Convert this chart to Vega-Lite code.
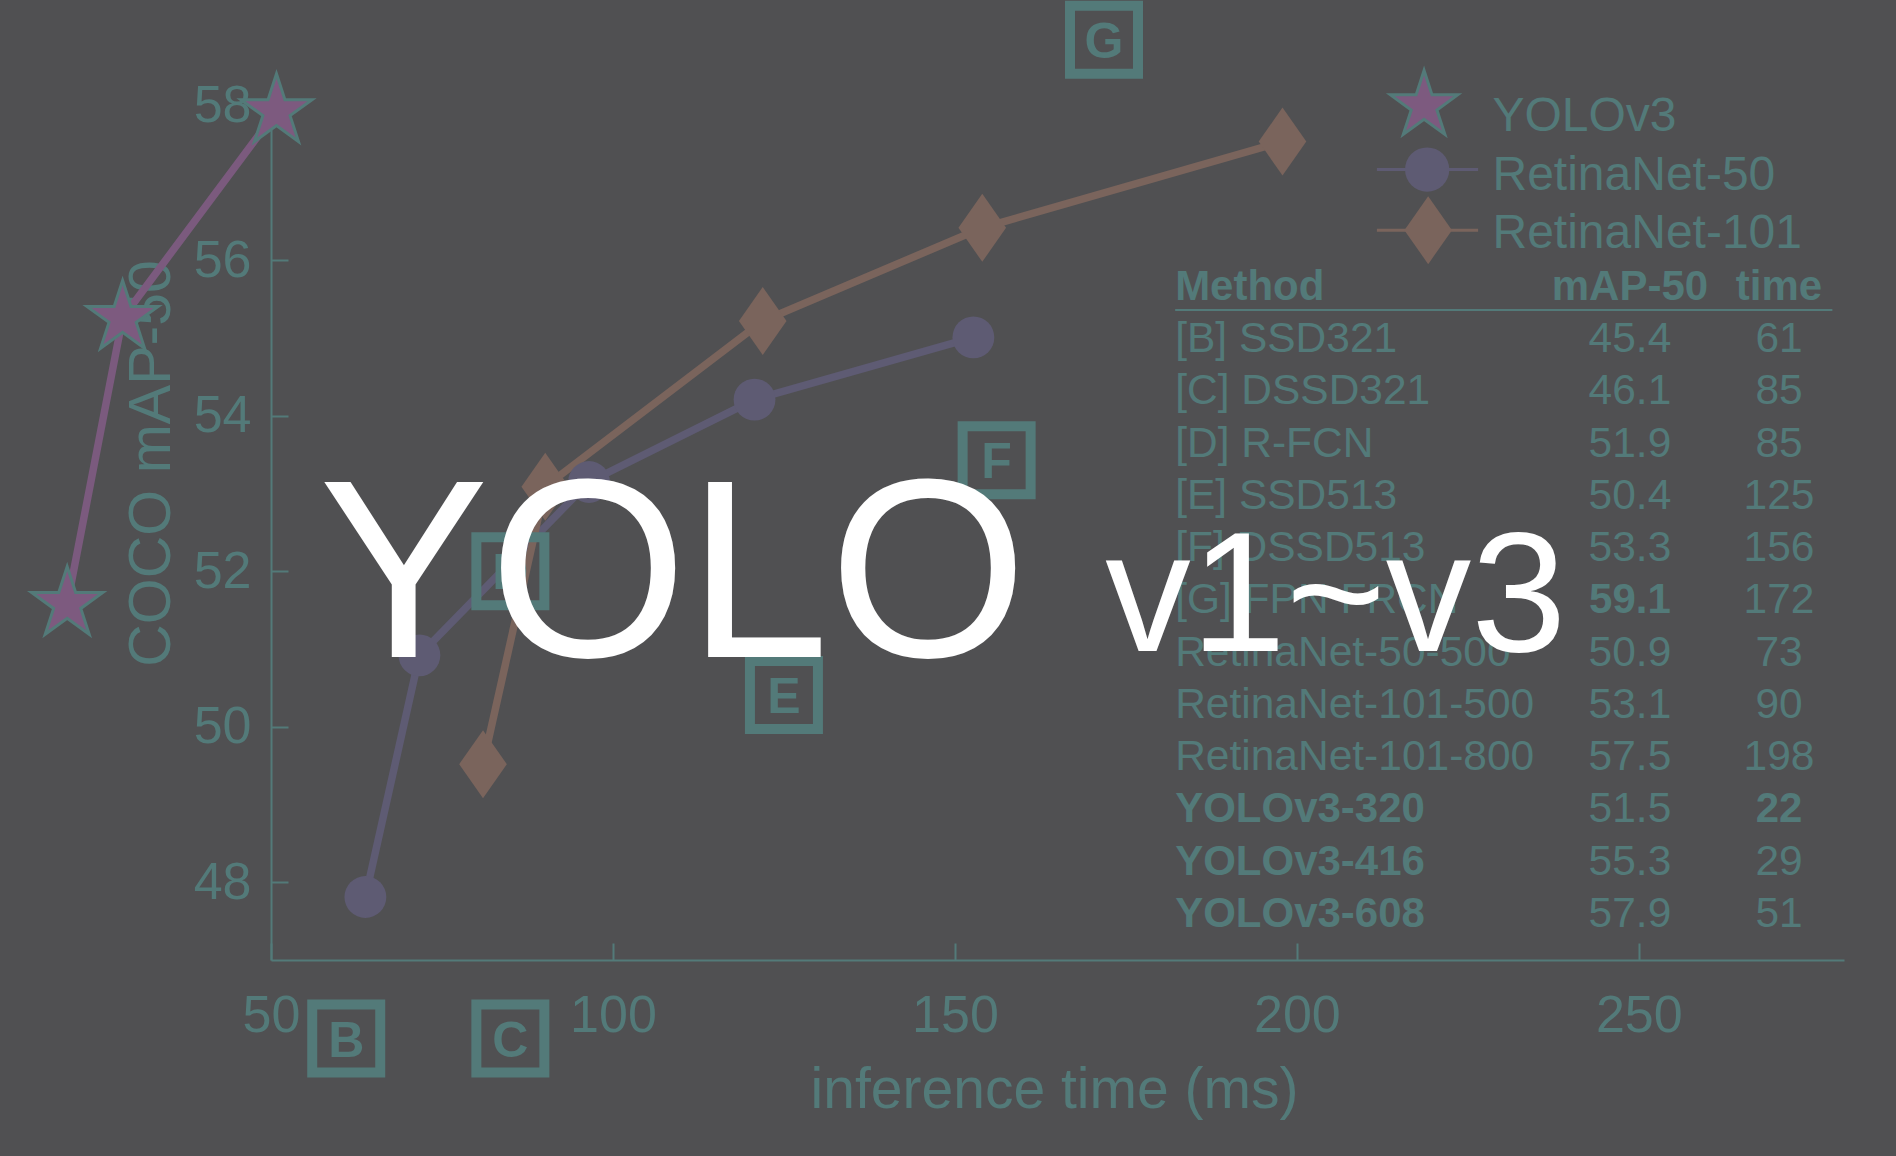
{
  "$schema": "https://vega.github.io/schema/vega-lite/v6.json",
  "width": 1573,
  "height": 855,
  "autosize": {"type": "none"},
  "padding": {"left": 271, "top": 105, "right": 52, "bottom": 196},
  "background": "#505052",
  "config": {"view": {"stroke": null}, "font": "Liberation Sans"},
  "datasets": {
    "curves": [
      {"model": "YOLOv3", "time": 20.2, "map": 51.58},
      {"model": "YOLOv3", "time": 28.3, "map": 55.26},
      {"model": "YOLOv3", "time": 50.8, "map": 57.92},
      {"model": "RetinaNet-50", "time": 63.8, "map": 47.81},
      {"model": "RetinaNet-50", "time": 71.7, "map": 50.92},
      {"model": "RetinaNet-50", "time": 96.5, "map": 53.15},
      {"model": "RetinaNet-50", "time": 120.7, "map": 54.21},
      {"model": "RetinaNet-50", "time": 152.7, "map": 55.01},
      {"model": "RetinaNet-101", "time": 81.0, "map": 49.52},
      {"model": "RetinaNet-101", "time": 90.1, "map": 53.09},
      {"model": "RetinaNet-101", "time": 121.9, "map": 55.22},
      {"model": "RetinaNet-101", "time": 154.0, "map": 56.42},
      {"model": "RetinaNet-101", "time": 197.9, "map": 57.53}
    ],
    "boxes": [
      {"label": "B", "time": 61.0, "map": 45.99},
      {"label": "C", "time": 85.0, "map": 45.99},
      {"label": "D", "time": 85.0, "map": 52.0},
      {"label": "E", "time": 125.0, "map": 50.41},
      {"label": "F", "time": 156.1, "map": 53.43},
      {"label": "G", "time": 171.8, "map": 58.84}
    ],
    "table": [
      {"row": 1, "method": "[B] SSD321", "map": 45.4, "time": 61},
      {"row": 2, "method": "[C] DSSD321", "map": 46.1, "time": 85},
      {"row": 3, "method": "[D] R-FCN", "map": 51.9, "time": 85},
      {"row": 4, "method": "[E] SSD513", "map": 50.4, "time": 125},
      {"row": 5, "method": "[F] DSSD513", "map": 53.3, "time": 156},
      {"row": 6, "method": "[G] FPN FRCN", "map": 59.1, "time": 172},
      {"row": 7, "method": "RetinaNet-50-500", "map": 50.9, "time": 73},
      {"row": 8, "method": "RetinaNet-101-500", "map": 53.1, "time": 90},
      {"row": 9, "method": "RetinaNet-101-800", "map": 57.5, "time": 198},
      {"row": 10, "method": "YOLOv3-320", "map": 51.5, "time": 22},
      {"row": 11, "method": "YOLOv3-416", "map": 55.3, "time": 29},
      {"row": 12, "method": "YOLOv3-608", "map": 57.9, "time": 51}
    ]
  },
  "resolve": {"scale": {"y": "independent"}},
  "layer": [
    {
      "layer": [
        {
          "data": {"name": "curves"},
          "mark": {"type": "line", "strokeWidth": 7.5},
          "encoding": {
            "x": {
              "field": "time", "type": "quantitative",
              "scale": {"domain": [50, 280], "nice": false, "zero": false},
              "axis": {
                "values": [50, 100, 150, 200, 250], "grid": false, "format": "d",
                "title": "inference time (ms)",
                "domainColor": "#537a79", "domainWidth": 2,
                "tickColor": "#537a79", "tickWidth": 2, "tickSize": -17,
                "labelFontSize": 52, "labelColor": "#537a79", "labelFlush": false,
                "labelBaseline": "alphabetic", "labelPadding": 88,
                "titleFontSize": 57, "titleFontWeight": "normal", "titleColor": "#537a79",
                "titleX": 783, "titleY": 147, "titleBaseline": "alphabetic", "titleAlign": "center"
              }
            },
            "y": {
              "field": "map", "type": "quantitative",
              "scale": {"domain": [47, 58], "nice": false, "zero": false},
              "axis": {
                "values": [48, 50, 52, 54, 56, 58], "grid": false, "format": "d",
                "title": "COCO mAP-50",
                "domainColor": "#537a79", "domainWidth": 2,
                "tickColor": "#537a79", "tickWidth": 2, "tickSize": -17,
                "labelFontSize": 52, "labelColor": "#537a79", "labelPadding": 37,
                "titleFontSize": 59, "titleFontWeight": "normal", "titleColor": "#537a79",
                "titleAngle": -90, "titleX": -102, "titleY": 358,
                "titleBaseline": "alphabetic", "titleAlign": "center"
              }
            },
            "color": {
              "field": "model", "type": "nominal",
              "scale": {"domain": ["YOLOv3", "RetinaNet-50", "RetinaNet-101"], "range": ["#7b5a7e", "#5e5b73", "#7a645c"]},
              "legend": null
            }
          }
        },
        {
          "data": {"name": "curves"},
          "transform": [{"filter": "datum.model === 'YOLOv3'"}],
          "mark": {"type": "point", "shape": "M0,-1L0.225,-0.309L0.951,-0.309L0.363,0.118L0.588,0.809L0,0.382L-0.588,0.809L-0.363,0.118L-0.951,-0.309L-0.225,-0.309Z", "filled": true, "fill": "#7d5a7f", "stroke": "#537a79", "strokeWidth": 3, "size": 5600, "opacity": 1},
          "encoding": {"x": {"field": "time", "type": "quantitative"}, "y": {"field": "map", "type": "quantitative"}}
        },
        {
          "data": {"name": "curves"},
          "transform": [{"filter": "datum.model === 'RetinaNet-50'"}],
          "mark": {"type": "point", "shape": "circle", "filled": true, "fill": "#5e5b73", "strokeWidth": 0, "size": 1750, "opacity": 1},
          "encoding": {"x": {"field": "time", "type": "quantitative"}, "y": {"field": "map", "type": "quantitative"}}
        },
        {
          "data": {"name": "curves"},
          "transform": [{"filter": "datum.model === 'RetinaNet-101'"}],
          "mark": {"type": "point", "shape": "M0,-1L0.7,0L0,1L-0.7,0Z", "filled": true, "fill": "#7a645c", "strokeWidth": 0, "size": 4624, "opacity": 1},
          "encoding": {"x": {"field": "time", "type": "quantitative"}, "y": {"field": "map", "type": "quantitative"}}
        },
        {
          "data": {"name": "boxes"},
          "mark": {"type": "point", "shape": "square", "filled": false, "stroke": "#537a79", "strokeWidth": 10, "size": 4624, "opacity": 1},
          "encoding": {"x": {"field": "time", "type": "quantitative"}, "y": {"field": "map", "type": "quantitative"}}
        },
        {
          "data": {"name": "boxes"},
          "mark": {"type": "text", "fontSize": 50, "fontWeight": "bold", "color": "#537a79", "align": "center", "baseline": "alphabetic", "dy": 18},
          "encoding": {"x": {"field": "time", "type": "quantitative"}, "y": {"field": "map", "type": "quantitative"}, "text": {"field": "label"}}
        },
        {
          "data": {"values": [{}]},
          "mark": {"type": "rule", "color": "#5e5b73", "strokeWidth": 3},
          "encoding": {"x": {"datum": 211.7, "type": "quantitative"}, "x2": {"datum": 226.5}, "y": {"datum": 57.17, "type": "quantitative"}}
        },
        {
          "data": {"values": [{}]},
          "mark": {"type": "rule", "color": "#7a645c", "strokeWidth": 3},
          "encoding": {"x": {"datum": 211.7, "type": "quantitative"}, "x2": {"datum": 226.5}, "y": {"datum": 56.39, "type": "quantitative"}}
        },
        {
          "data": {"values": [{}]},
          "mark": {"type": "point", "shape": "M0,-1L0.225,-0.309L0.951,-0.309L0.363,0.118L0.588,0.809L0,0.382L-0.588,0.809L-0.363,0.118L-0.951,-0.309L-0.225,-0.309Z", "filled": true, "fill": "#7d5a7f", "stroke": "#537a79", "strokeWidth": 3, "size": 5000, "opacity": 1},
          "encoding": {"x": {"datum": 218.6, "type": "quantitative"}, "y": {"datum": 57.99, "type": "quantitative"}}
        },
        {
          "data": {"values": [{}]},
          "mark": {"type": "point", "shape": "circle", "filled": true, "fill": "#5e5b73", "strokeWidth": 0, "size": 1960, "opacity": 1},
          "encoding": {"x": {"datum": 219.05, "type": "quantitative"}, "y": {"datum": 57.17, "type": "quantitative"}}
        },
        {
          "data": {"values": [{}]},
          "mark": {"type": "point", "shape": "M0,-1L0.7,0L0,1L-0.7,0Z", "filled": true, "fill": "#7a645c", "strokeWidth": 0, "size": 4624, "opacity": 1},
          "encoding": {"x": {"datum": 219.2, "type": "quantitative"}, "y": {"datum": 56.39, "type": "quantitative"}}
        },
        {
          "data": {"values": [{}]},
          "mark": {"type": "text", "text": "YOLOv3", "fontSize": 48, "color": "#537a79", "align": "left", "baseline": "alphabetic"},
          "encoding": {"x": {"datum": 228.6, "type": "quantitative"}, "y": {"datum": 57.66, "type": "quantitative"}}
        },
        {
          "data": {"values": [{}]},
          "mark": {"type": "text", "text": "RetinaNet-50", "fontSize": 48, "color": "#537a79", "align": "left", "baseline": "alphabetic"},
          "encoding": {"x": {"datum": 228.6, "type": "quantitative"}, "y": {"datum": 56.91, "type": "quantitative"}}
        },
        {
          "data": {"values": [{}]},
          "mark": {"type": "text", "text": "RetinaNet-101", "fontSize": 48, "color": "#537a79", "align": "left", "baseline": "alphabetic"},
          "encoding": {"x": {"datum": 228.6, "type": "quantitative"}, "y": {"datum": 56.16, "type": "quantitative"}}
        }
      ]
    },
    {
      "layer": [
        {
          "data": {"values": [{}]},
          "mark": {"type": "text", "text": "Method", "fontSize": 42, "fontWeight": "bold", "color": "#537a79", "align": "left", "baseline": "alphabetic"},
          "encoding": {
            "x": {"datum": 182.2, "type": "quantitative"},
            "y": {"datum": 0, "type": "quantitative", "scale": {"domain": [-3.732, 12.632], "reverse": true, "nice": false, "zero": false}, "axis": null}
          }
        },
        {
          "data": {"values": [{}]},
          "mark": {"type": "text", "text": "mAP-50", "fontSize": 42, "fontWeight": "bold", "color": "#537a79", "align": "center", "baseline": "alphabetic"},
          "encoding": {"x": {"datum": 248.7, "type": "quantitative"}, "y": {"datum": 0, "type": "quantitative"}}
        },
        {
          "data": {"values": [{}]},
          "mark": {"type": "text", "text": "time", "fontSize": 42, "fontWeight": "bold", "color": "#537a79", "align": "center", "baseline": "alphabetic"},
          "encoding": {"x": {"datum": 270.5, "type": "quantitative"}, "y": {"datum": 0, "type": "quantitative"}}
        },
        {
          "data": {"values": [{}]},
          "mark": {"type": "rule", "color": "#537a79", "strokeWidth": 2},
          "encoding": {"x": {"datum": 182.2, "type": "quantitative"}, "x2": {"datum": 278.3}, "y": {"datum": 0.19, "type": "quantitative"}}
        },
        {
          "data": {"name": "table"},
          "transform": [{"filter": "indexof(datum.method, 'YOLO') !== 0"}],
          "mark": {"type": "text", "fontSize": 42.5, "color": "#537a79", "align": "left", "baseline": "alphabetic"},
          "encoding": {"x": {"datum": 182.2, "type": "quantitative"}, "y": {"field": "row", "type": "quantitative"}, "text": {"field": "method"}}
        },
        {
          "data": {"name": "table"},
          "transform": [{"filter": "indexof(datum.method, 'YOLO') === 0"}],
          "mark": {"type": "text", "fontSize": 42, "fontWeight": "bold", "color": "#537a79", "align": "left", "baseline": "alphabetic"},
          "encoding": {"x": {"datum": 182.2, "type": "quantitative"}, "y": {"field": "row", "type": "quantitative"}, "text": {"field": "method"}}
        },
        {
          "data": {"name": "table"},
          "transform": [{"filter": "datum.map !== 59.1"}],
          "mark": {"type": "text", "fontSize": 42.5, "color": "#537a79", "align": "center", "baseline": "alphabetic"},
          "encoding": {"x": {"datum": 248.7, "type": "quantitative"}, "y": {"field": "row", "type": "quantitative"}, "text": {"field": "map", "format": ".1f"}}
        },
        {
          "data": {"name": "table"},
          "transform": [{"filter": "datum.map === 59.1"}],
          "mark": {"type": "text", "fontSize": 42, "fontWeight": "bold", "color": "#537a79", "align": "center", "baseline": "alphabetic"},
          "encoding": {"x": {"datum": 248.7, "type": "quantitative"}, "y": {"field": "row", "type": "quantitative"}, "text": {"field": "map", "format": ".1f"}}
        },
        {
          "data": {"name": "table"},
          "transform": [{"filter": "datum.time !== 22"}],
          "mark": {"type": "text", "fontSize": 42.5, "color": "#537a79", "align": "center", "baseline": "alphabetic"},
          "encoding": {"x": {"datum": 270.5, "type": "quantitative"}, "y": {"field": "row", "type": "quantitative"}, "text": {"field": "time"}}
        },
        {
          "data": {"name": "table"},
          "transform": [{"filter": "datum.time === 22"}],
          "mark": {"type": "text", "fontSize": 42, "fontWeight": "bold", "color": "#537a79", "align": "center", "baseline": "alphabetic"},
          "encoding": {"x": {"datum": 270.5, "type": "quantitative"}, "y": {"field": "row", "type": "quantitative"}, "text": {"field": "time"}}
        },
        {
          "data": {"values": [{}]},
          "mark": {"type": "text", "text": "YOLO", "fontSize": 255, "color": "#ffffff", "align": "left", "baseline": "alphabetic"},
          "encoding": {"x": {"datum": 57.0, "type": "quantitative"}, "y": {"datum": 6.825, "type": "quantitative"}}
        },
        {
          "data": {"values": [{}]},
          "mark": {"type": "text", "text": "v1~v3", "fontSize": 171, "color": "#ffffff", "align": "left", "baseline": "alphabetic"},
          "encoding": {"x": {"datum": 172.0, "type": "quantitative"}, "y": {"datum": 6.71, "type": "quantitative"}}
        }
      ]
    }
  ]
}
